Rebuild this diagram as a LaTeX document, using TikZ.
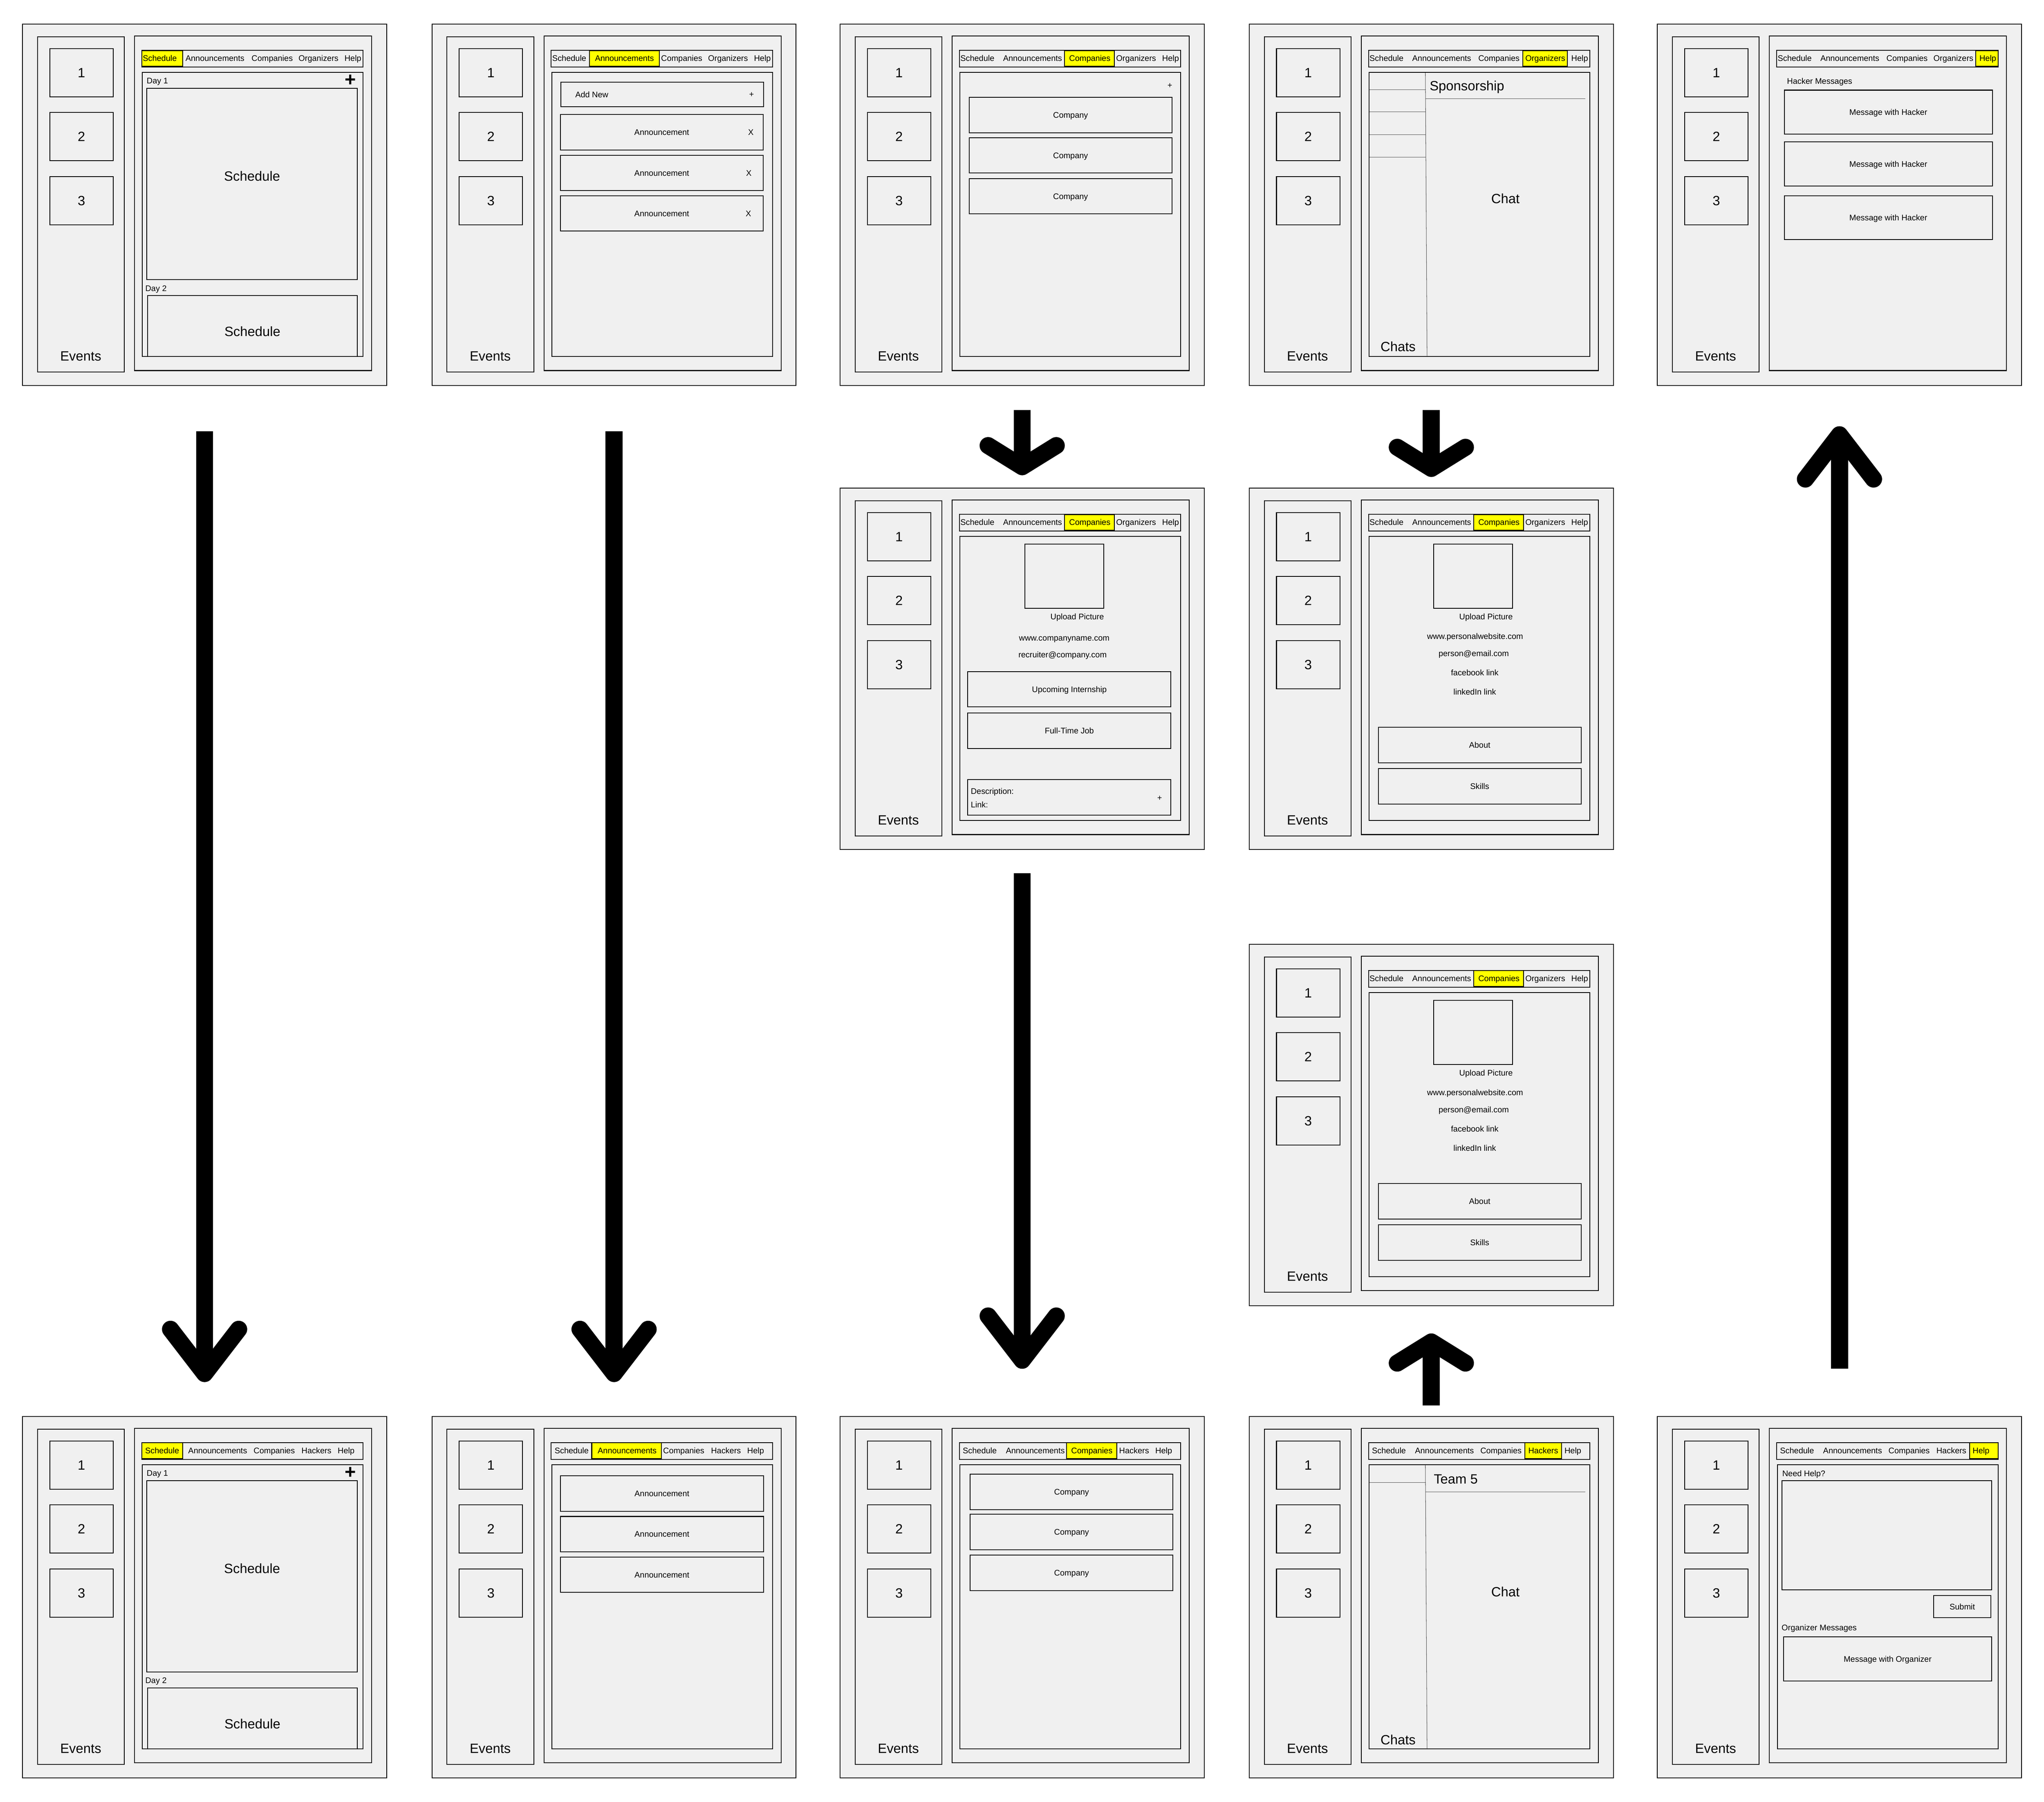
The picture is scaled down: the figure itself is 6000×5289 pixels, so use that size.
\documentclass[tikz,border=0pt]{standalone}
\usepackage{fontspec}
\setmainfont{Liberation Sans}
\usetikzlibrary{arrows.meta}

\definecolor{uigray}{HTML}{F0F0F0}
\definecolor{hlyellow}{HTML}{FFFF00}

\newcommand\uismall{\fontsize{6.8pt}{8pt}\selectfont}
\newcommand\uibig{\fontsize{11.2pt}{13pt}\selectfont}

\tikzset{
  uiframe/.style={draw, line width=0.7pt, fill=uigray},
  uibox/.style={draw, line width=0.7pt, fill=uigray, inner sep=0pt},
  item/.style={uibox, font=\uismall, text height=0.17cm, text depth=0pt},
  numbox/.style={uibox, font=\uibig, text height=0.28cm, text depth=0pt,
    minimum width=1.86cm, minimum height=1.42cm},
  tabhl/.style={draw, line width=0.7pt, fill=hlyellow},
  lbl/.style={font=\uismall, inner sep=0pt, text height=0.17cm, text depth=0pt},
  biglbl/.style={font=\uibig, inner sep=0pt, text height=0.28cm, text depth=0pt},
  plus/.style={font=\fontsize{16pt}{16pt}\selectfont\bfseries, inner sep=0pt},
  thinline/.style={draw=black!70, line width=0.35pt},
  screenat/.style={shift={#1}, yscale=0.991},
  bigflow/.style={line width=0.5cm, -{Straight Barb[length=1.3cm, width=2cm, round]}},
  shortflow/.style={line width=0.5cm, -{Straight Barb[length=0.62cm, width=2cm, round]}}
}

% frame of one screen, drawn at the origin of the current scope
\newcommand\uiscreen[1]{%
  \node[uiframe, anchor=north west, minimum width=10.68cm, minimum height=10.6cm] (#1) at (0,0) {};
  \draw[uiframe] (45,38) rectangle (300,1031);
  \foreach \n/\y in {1/145,2/334,3/524}
    \node[numbox] (#1-ev\n) at (174,\y) {\n};
  \node[biglbl] (#1-events) at (172,984) {Events};
  \draw[uiframe] (330,36) rectangle (1026,1027);
}

% tab bars: #1 screen name, #2/#3 left and right end of the selected tab
\newcommand\orgtabs[3]{%
  \draw[uiframe] (351,78) rectangle (1001,128);
  \draw[tabhl] (#2,79) rectangle (#3,126);
  \foreach \t/\x [count=\i] in {Schedule/404,Announcements/566,Companies/734,Organizers/870,Help/971}
    \node[lbl] (#1-tab\i) at (\x,102) {\t};
}
\newcommand\hacktabs[3]{%
  \draw[uiframe] (351,78) rectangle (1001,128);
  \draw[tabhl] (#2,79) rectangle (#3,126);
  \foreach \t/\x [count=\i] in {Schedule/411,Announcements/574,Companies/740,Hackers/864,Help/951}
    \node[lbl] (#1-tab\i) at (\x,102) {\t};
}
\newcommand\uicontent{\draw[uiframe] (353,144) rectangle (1001,985);}

\newcommand\schedview[1]{%
  \node[lbl, anchor=west] (#1-day1) at (365,168) {Day 1};
  \node[plus] (#1-add) at (964,168) {+};
  \draw[uiframe] (366,191) rectangle (984,758);
  \node[biglbl] (#1-sched1) at (675,451) {Schedule};
  \node[lbl, anchor=west] (#1-day2) at (361,783) {Day 2};
  \draw[uiframe] (368,805) rectangle (984,985);
  \node[biglbl] (#1-sched2) at (676,911) {Schedule};
}

\begin{document}
\begin{tikzpicture}[x=0.01cm, y=-0.01cm]
  \useasboundingbox (0,0) rectangle (6000,5289);

  % Organizer views (top row)
  \begin{scope}[screenat={(65,70)}]
    \uiscreen{t1}
    \orgtabs{t1}{351}{471}
    \uicontent
    \schedview{t1}
  \end{scope}

  \begin{scope}[screenat={(1267,70)}]
    \uiscreen{t2}
    \orgtabs{t2}{463}{669}
    \uicontent
    \node[item, minimum width=5.95cm, minimum height=0.72cm] (t2-new) at (676.5,209.5) {};
    \node[lbl, anchor=west] (t2-newtxt) at (421,210) {Add New};
    \node[lbl] (t2-newplus) at (939,208) {+};
    \foreach \y/\xx [count=\i] in {321/937,441.5/931,561.5/930} {
      \node[item, minimum width=5.95cm, minimum height=1.04cm] (t2-ann\i) at (675.5,\y) {Announcement};
      \node[lbl] (t2-del\i) at (\xx,\y) {X};
    }
  \end{scope}

  \begin{scope}[screenat={(2465,70)}]
    \uiscreen{t3}
    \orgtabs{t3}{660}{806}
    \uicontent
    \node[lbl] (t3-add) at (969,182) {+};
    \foreach \y [count=\i] in {270.5,389.5,510.5}
      \node[item, minimum width=5.95cm, minimum height=1.04cm] (t3-co\i) at (677.5,\y) {Company};
  \end{scope}

  \begin{scope}[screenat={(3666,70)}]
    \uiscreen{t4}
    \orgtabs{t4}{804}{935}
    \uicontent
    \draw[thinline] (518,145) -- (523,985);
    \draw[thinline] (518,222) -- (988,222);
    \foreach \y in {195,261,328,395}
      \draw[thinline] (354,\y) -- (519,\y);
    \node[biglbl, anchor=west] (t4-title) at (530,184) {Sponsorship};
    \node[biglbl] (t4-chat) at (753,518) {Chat};
    \node[biglbl] (t4-chats) at (438,956) {Chats};
  \end{scope}

  \begin{scope}[screenat={(4864,70)}]
    \uiscreen{t5}
    \orgtabs{t5}{936}{1001}
    \node[lbl, anchor=west] (t5-title) at (381,169) {Hacker Messages};
    \foreach \y [count=\i] in {261.5,415,574}
      \node[item, minimum width=6.1cm, minimum height=1.29cm] (t5-msg\i) at (679,\y) {Message with Hacker};
  \end{scope}

  % Profile views
  \begin{scope}[screenat={(2465,1432)}]
    \uiscreen{m3}
    \orgtabs{m3}{660}{806}
    \uicontent
    \draw[uiframe] (543,167) rectangle (775,357);
    \node[lbl] (m3-upload) at (697,382) {Upload Picture};
    \node[lbl] (m3-web) at (659,444) {www.companyname.com};
    \node[lbl] (m3-mail) at (654,494) {recruiter@company.com};
    \node[item, minimum width=5.96cm, minimum height=1.04cm] (m3-intern) at (674,596.5) {Upcoming Internship};
    \node[item, minimum width=5.96cm, minimum height=1.04cm] (m3-job) at (674,719.5) {Full-Time Job};
    \node[item, minimum width=5.96cm, minimum height=1.04cm] (m3-post) at (674,916.5) {};
    \node[lbl, anchor=west] (m3-desc) at (384,899) {Description:};
    \node[lbl, anchor=west] (m3-link) at (384,938) {Link:};
    \node[lbl] (m3-plus) at (939,918) {+};
  \end{scope}

  \foreach \s/\sy in {m4/1432,r4/2771} {
    \begin{scope}[screenat={(3666,\sy)}]
      \uiscreen{\s}
      \orgtabs{\s}{660}{806}
      \uicontent
      \draw[uiframe] (542,167) rectangle (774,357);
      \node[lbl] (\s-upload) at (696,382) {Upload Picture};
      \node[lbl] (\s-web) at (664,440) {www.personalwebsite.com};
      \node[lbl] (\s-mail) at (660,491) {person@email.com};
      \node[lbl] (\s-fb) at (663,547) {facebook link};
      \node[lbl] (\s-li) at (663,604) {linkedIn link};
      \node[item, minimum width=5.95cm, minimum height=1.05cm] (\s-about) at (677.5,762) {About};
      \node[item, minimum width=5.95cm, minimum height=1.04cm] (\s-skills) at (677.5,884.5) {Skills};
    \end{scope}
  }

  % Hacker views (bottom row)
  \begin{scope}[screenat={(65,4157)}]
    \uiscreen{b1}
    \hacktabs{b1}{351}{471}
    \uicontent
    \schedview{b1}
  \end{scope}

  \begin{scope}[screenat={(1267,4157)}]
    \uiscreen{b2}
    \hacktabs{b2}{470}{675}
    \uicontent
    \foreach \y [count=\i] in {229.5,349.5,469.5}
      \node[item, minimum width=5.96cm, minimum height=1.04cm] (b2-ann\i) at (676,\y) {Announcement};
  \end{scope}

  \begin{scope}[screenat={(2465,4157)}]
    \uiscreen{b3}
    \hacktabs{b3}{666}{813}
    \uicontent
    \foreach \y [count=\i] in {224.5,343,464.5}
      \node[item, minimum width=5.95cm, minimum height=1.04cm] (b3-co\i) at (680.5,\y) {Company};
  \end{scope}

  \begin{scope}[screenat={(3666,4157)}]
    \uiscreen{b4}
    \hacktabs{b4}{810}{918}
    \uicontent
    \draw[thinline] (518,145) -- (523,985);
    \draw[thinline] (518,224) -- (988,224);
    \draw[thinline] (354,197) -- (519,197);
    \node[biglbl, anchor=west] (b4-title) at (542,186) {Team 5};
    \node[biglbl] (b4-chat) at (753,520) {Chat};
    \node[biglbl] (b4-chats) at (438,959) {Chats};
  \end{scope}

  \begin{scope}[screenat={(4864,4157)}]
    \uiscreen{b5}
    \hacktabs{b5}{918}{1001}
    \uicontent
    \node[lbl, anchor=west] (b5-need) at (367,170) {Need Help?};
    \draw[uiframe] (367,191) rectangle (982,514);
    \node[item, minimum width=1.68cm, minimum height=0.65cm] (b5-submit) at (896,564) {Submit};
    \node[lbl, anchor=west] (b5-orgmsg) at (365,626) {Organizer Messages};
    \node[item, minimum width=6.1cm, minimum height=1.29cm] (b5-msg) at (677,719) {Message with Organizer};
  \end{scope}

  % Flow between screens
  \draw[bigflow, shorten <=1.33cm, shorten >=1cm] (t1) -- (b1);
  \draw[bigflow, shorten <=1.33cm, shorten >=1cm] (t2) -- (b2);
  \draw[shortflow, shorten <=0.7cm, shorten >=0.37cm] (t3) -- (m3);
  \draw[bigflow, shorten <=0.68cm, shorten >=1.39cm] (m3) -- (b3);
  \draw[shortflow, shorten <=0.7cm, shorten >=0.32cm] (t4) -- (m4);
  \draw[shortflow, shorten <=0.32cm, shorten >=0.8cm] (b4) -- (r4);
  \draw[bigflow, shorten <=1.39cm, shorten >=1.18cm] (b5) -- (t5);
\end{tikzpicture}
\end{document}
